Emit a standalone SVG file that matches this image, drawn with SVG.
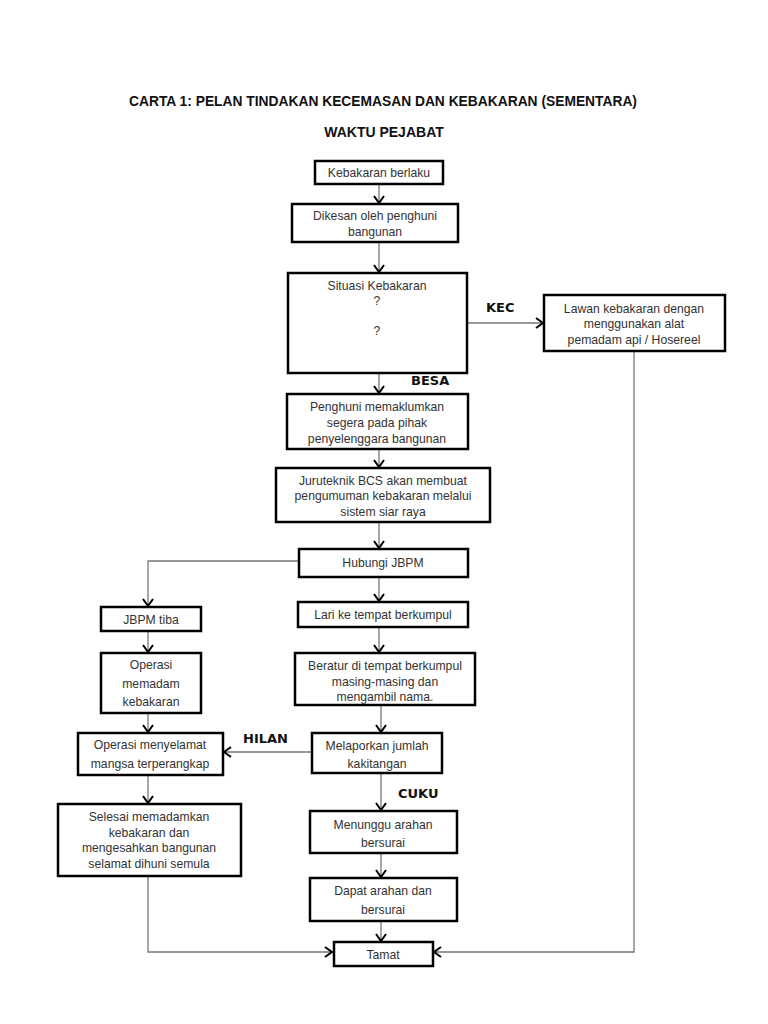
<svg xmlns="http://www.w3.org/2000/svg" width="768" height="1024" viewBox="0 0 768 1024">
<style>
.box{fill:#fff;stroke:#000;stroke-width:2.5}
.t{font-family:"Liberation Sans",Arial,sans-serif;font-size:12.2px;fill:#333;text-anchor:middle}
.title{font-family:"Liberation Sans",Arial,sans-serif;font-weight:bold;fill:#111;text-anchor:middle}
.lbl{font-family:"DejaVu Sans",sans-serif;font-weight:bold;font-size:13px;fill:#111}
.c{fill:none;stroke:#777;stroke-width:1.3}
</style>
<defs>
<marker id="arr" viewBox="0 0 10 12" refX="8" refY="6" markerWidth="10" markerHeight="12" markerUnits="userSpaceOnUse" orient="auto">
<path d="M1,1 L8,6 L1,11" fill="none" stroke="#000" stroke-width="2"/>
</marker>
</defs>
<rect width="768" height="1024" fill="#fff"/>
<text class="title" x="383" y="106" font-size="13.8">CARTA 1: PELAN TINDAKAN KECEMASAN DAN KEBAKARAN (SEMENTARA)</text>
<text class="title" x="384" y="137" font-size="14">WAKTU PEJABAT</text>

<g id="connectors">
<line class="c" x1="379" y1="185" x2="379" y2="203" marker-end="url(#arr)"/>
<line class="c" x1="379" y1="243" x2="379" y2="272" marker-end="url(#arr)"/>
<line class="c" x1="468" y1="323" x2="543" y2="323" marker-end="url(#arr)"/>
<line class="c" x1="379" y1="374" x2="379" y2="393" marker-end="url(#arr)"/>
<line class="c" x1="379" y1="450" x2="379" y2="467" marker-end="url(#arr)"/>
<line class="c" x1="379" y1="523" x2="379" y2="548" marker-end="url(#arr)"/>
<line class="c" x1="379" y1="578" x2="379" y2="601" marker-end="url(#arr)"/>
<line class="c" x1="379" y1="628" x2="379" y2="652" marker-end="url(#arr)"/>
<line class="c" x1="381" y1="706" x2="381" y2="732" marker-end="url(#arr)"/>
<line class="c" x1="381" y1="774" x2="381" y2="810" marker-end="url(#arr)"/>
<line class="c" x1="381" y1="854" x2="381" y2="877" marker-end="url(#arr)"/>
<line class="c" x1="381" y1="922" x2="381" y2="941" marker-end="url(#arr)"/>
<polyline class="c" points="299,561 148,561 148,606" marker-end="url(#arr)"/>
<line class="c" x1="148" y1="632" x2="148" y2="652" marker-end="url(#arr)"/>
<line class="c" x1="148" y1="714" x2="148" y2="732" marker-end="url(#arr)"/>
<line class="c" x1="148" y1="776" x2="148" y2="803" marker-end="url(#arr)"/>
<line class="c" x1="311" y1="752" x2="224" y2="752" stroke="#ccc" marker-end="url(#arr)"/>
<polyline class="c" points="148,877 148,952 332,952" marker-end="url(#arr)"/>
<polyline class="c" points="634,352 634,952 434,952" marker-end="url(#arr)"/>
</g>

<g id="n1"><rect class="box" x="315" y="161" width="128" height="23"/><text class="t" x="379" y="177">Kebakaran berlaku</text></g>
<g id="n2"><rect class="box" x="292" y="204" width="166" height="38"/><text class="t" x="375" y="220">Dikesan oleh penghuni</text><text class="t" x="375" y="236">bangunan</text></g>
<g id="n3"><rect class="box" x="288" y="273" width="179" height="100"/><text class="t" x="377" y="290">Situasi Kebakaran</text><text class="t" x="377" y="305">?</text><text class="t" x="377" y="335">?</text></g>
<g id="n4"><rect class="box" x="544" y="295" width="181" height="56"/><text class="t" x="634" y="313">Lawan kebakaran dengan</text><text class="t" x="634" y="328">menggunakan alat</text><text class="t" x="634" y="344">pemadam api / Hosereel</text></g>
<g id="n5"><rect class="box" x="287" y="394" width="181" height="55"/><text class="t" x="377" y="411">Penghuni memaklumkan</text><text class="t" x="377" y="427">segera pada pihak</text><text class="t" x="377" y="443">penyelenggara bangunan</text></g>
<g id="n6"><rect class="box" x="276" y="468" width="214" height="54"/><text class="t" x="383" y="485">Juruteknik BCS akan membuat</text><text class="t" x="383" y="500">pengumuman kebakaran melalui</text><text class="t" x="383" y="516">sistem siar raya</text></g>
<g id="n7"><rect class="box" x="299" y="549" width="169" height="28"/><text class="t" x="383" y="567">Hubungi JBPM</text></g>
<g id="n8"><rect class="box" x="298" y="602" width="170" height="25"/><text class="t" x="383" y="619">Lari ke tempat berkumpul</text></g>
<g id="n9"><rect class="box" x="101" y="607" width="100" height="24"/><text class="t" x="151" y="624">JBPM tiba</text></g>
<g id="n10"><rect class="box" x="101" y="653" width="100" height="60"/><text class="t" x="151" y="669">Operasi</text><text class="t" x="151" y="688">memadam</text><text class="t" x="151" y="706">kebakaran</text></g>
<g id="n11"><rect class="box" x="78" y="733" width="145" height="42"/><text class="t" x="150" y="749">Operasi menyelamat</text><text class="t" x="150" y="768">mangsa terperangkap</text></g>
<g id="n12"><rect class="box" x="295" y="653" width="180" height="52"/><text class="t" x="385" y="670">Beratur di tempat berkumpul</text><text class="t" x="385" y="686">masing-masing dan</text><text class="t" x="385" y="701">mengambil nama.</text></g>
<g id="n13"><rect class="box" x="312" y="733" width="130" height="40"/><text class="t" x="377" y="750">Melaporkan jumlah</text><text class="t" x="377" y="768">kakitangan</text></g>
<g id="n14"><rect class="box" x="310" y="811" width="147" height="42"/><text class="t" x="383" y="829">Menunggu arahan</text><text class="t" x="383" y="847">bersurai</text></g>
<g id="n15"><rect class="box" x="310" y="878" width="147" height="43"/><text class="t" x="383" y="895">Dapat arahan dan</text><text class="t" x="383" y="914">bersurai</text></g>
<g id="n16"><rect class="box" x="334" y="942" width="99" height="24"/><text class="t" x="383" y="959">Tamat</text></g>
<g id="n17"><rect class="box" x="58" y="804" width="183" height="72"/><text class="t" x="149" y="821">Selesai memadamkan</text><text class="t" x="149" y="837">kebakaran dan</text><text class="t" x="149" y="852">mengesahkan bangunan</text><text class="t" x="149" y="868">selamat dihuni semula</text></g>

<text class="lbl" x="486" y="312">KEC</text>
<text class="lbl" x="411" y="385">BESA</text>
<text class="lbl" x="243" y="743">HILAN</text>
<text class="lbl" x="398" y="798">CUKU</text>
</svg>
